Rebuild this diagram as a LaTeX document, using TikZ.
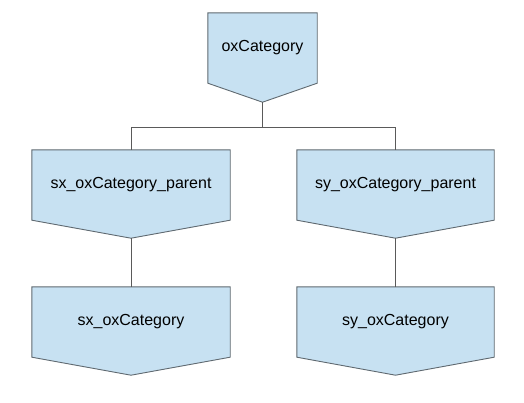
\documentclass[tikz,border=0pt]{standalone}
\usepackage{fontspec}
\setmainfont{Liberation Sans}
\usetikzlibrary{calc,backgrounds}
\definecolor{boxfill}{RGB}{199,225,242}
\definecolor{boxline}{RGB}{95,105,112}
\definecolor{connline}{RGB}{90,90,90}
\tikzset{
  x=1pt, y=-1pt,
  box/.style={minimum height=70pt, inner sep=0pt, font=\fontsize{16}{19}\selectfont, text=black},
  boxshape/.style={fill=boxfill, draw=boxline, line width=0.9pt, line join=miter},
  conn/.style={draw=connline, line width=0.9pt}
}
\begin{document}
\begin{tikzpicture}
\useasboundingbox (0,0) rectangle (524,402);
\node[box, minimum width=109pt] (top) at (262.5,48) {oxCategory};
\node[box, minimum width=198pt] (sxp) at (131,185) {sx\_oxCategory\_parent};
\node[box, minimum width=197pt] (syp) at (395.5,185) {sy\_oxCategory\_parent};
\node[box, minimum width=198pt] (sx) at (131,322) {sx\_oxCategory};
\node[box, minimum width=197pt] (sy) at (395.5,322) {sy\_oxCategory};
\foreach \n/\d in {top/19,sxp/18,syp/18,sx/18,sy/18}{
  \coordinate (\n tip) at ($(\n.south)+(0,\d)$);
}
\begin{scope}[on background layer]
\foreach \n in {top,sxp,syp,sx,sy}{
  \path[boxshape] (\n.north west) -- (\n.north east) -- (\n.south east) -- (\n tip) -- (\n.south west) -- cycle;
}
\end{scope}
\coordinate (junction) at (262.5,127);
\draw[conn] (toptip) -- (junction);
\draw[conn] (junction) -| (sxp.north);
\draw[conn] (junction) -| (syp.north);
\draw[conn] (sxptip) -- (sx.north);
\draw[conn] (syptip) -- (sy.north);
\end{tikzpicture}
\end{document}
